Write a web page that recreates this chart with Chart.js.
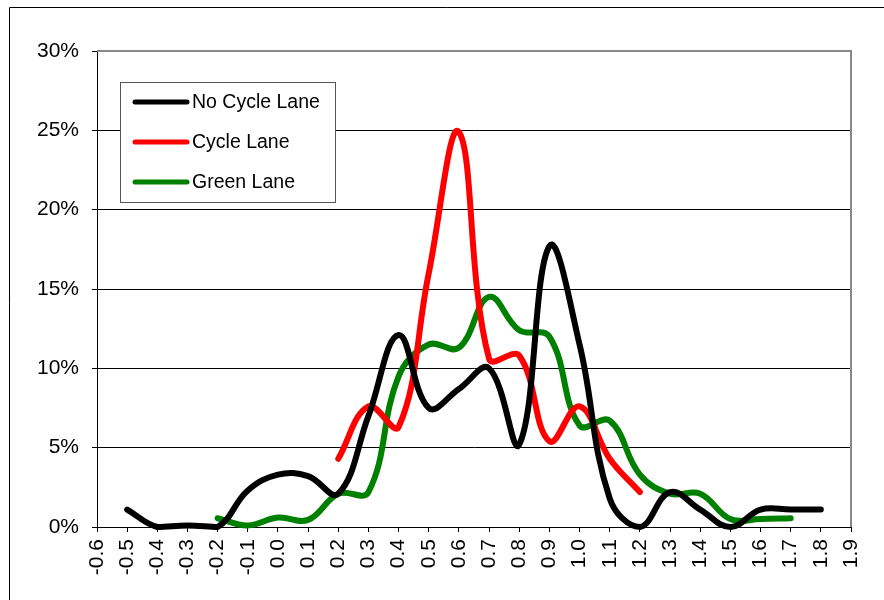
<!DOCTYPE html>
<html>
<head>
<meta charset="utf-8">
<script src="https://cdn.jsdelivr.net/npm/chart.js@4"></script>
<style>
  html, body { margin: 0; padding: 0; background: #fff; }
  #wrap { width: 884px; height: 600px; position: relative; }
</style>
</head>
<body>
<div id="wrap"><canvas id="laneChart"></canvas></div>
<script>
// x positions (speed bins) for each series
const noCycleX = [-0.5, -0.4, -0.3, -0.2, -0.1, 0.0, 0.1, 0.2, 0.3, 0.4, 0.5, 0.6,
                  0.7, 0.8, 0.9, 1.0, 1.1, 1.2, 1.3, 1.4, 1.5, 1.6, 1.7, 1.8];
const noCycleY = [1.1, 0.0, 0.1, 0.0, 2.3, 3.3, 3.2, 2.1, 7.0, 12.1, 7.5, 8.7,
                  10.0, 5.2, 17.7, 11.5, 1.8, 0.0, 2.2, 1.1, 0.0, 1.1, 1.1, 1.1];

const cycleX = [0.2, 0.3, 0.4, 0.5, 0.6, 0.7, 0.8, 0.9, 1.0, 1.1, 1.2];
const cycleY = [4.3, 7.6, 6.3, 16.0, 24.9, 10.6, 10.8, 5.4, 7.6, 4.3, 2.2];

const greenX = [-0.2, -0.1, 0.0, 0.1, 0.2, 0.3, 0.4, 0.5, 0.6, 0.7,
                0.8, 0.9, 1.0, 1.1, 1.2, 1.3, 1.4, 1.5, 1.6, 1.7];
const greenY = [0.55, 0.1, 0.6, 0.45, 2.1, 2.2, 9.5, 11.5, 11.3, 14.5,
                12.4, 12.0, 6.4, 6.7, 3.3, 2.1, 2.1, 0.5, 0.5, 0.55];

const seriesNames = ['No Cycle Lane', 'Cycle Lane', 'Green Lane'];
const seriesColors = ['#000000', '#ff0000', '#008000'];

const xMin = -0.6, xMax = 1.9;
const yTicks = [0, 5, 10, 15, 20, 25, 30];

function pts(xs, ys) {
    return xs.map((x, i) => ({ x: x, y: ys[i] }));
}

function lineSet(i, data) {
    return {
        label: seriesNames[i],
        data: data,
        borderColor: seriesColors[i],
        backgroundColor: seriesColors[i],
        borderWidth: 6,
        borderCapStyle: 'round',
        borderJoinStyle: 'round',
        pointRadius: 0,
        pointHoverRadius: 0,
        fill: false,
        tension: 0.4,
        clip: 10
    };
}

// frame, plot border and the boxed legend in the upper left
const decorPlugin = {
    id: 'decor',
    afterDraw(chart) {
        const c = chart.ctx;
        const a = chart.chartArea;
        c.save();
        // outer chart border (runs off the right and bottom)
        c.strokeStyle = '#000';
        c.lineWidth = 1;
        c.beginPath();
        c.moveTo(9.5, 600);
        c.lineTo(9.5, 7.5);
        c.lineTo(884, 7.5);
        c.stroke();

        // plot area top/right border
        c.strokeStyle = '#888';
        c.lineWidth = 2;
        c.beginPath();
        c.moveTo(a.left, a.top);
        c.lineTo(a.right, a.top);
        c.lineTo(a.right, a.bottom);
        c.stroke();

        // legend
        const bx = 120.5, by = 82.5, bw = 215, bh = 120;
        c.fillStyle = '#fff';
        c.fillRect(bx, by, bw, bh);
        c.strokeStyle = '#555';
        c.lineWidth = 1;
        c.strokeRect(bx, by, bw, bh);
        c.font = '19.5px "Liberation Sans", Arial, sans-serif';
        c.textBaseline = 'middle';
        c.textAlign = 'left';
        chart.data.datasets.forEach((ds, i) => {
            const y = 102 + i * 40;
            c.strokeStyle = ds.borderColor;
            c.lineWidth = 5;
            c.lineCap = 'round';
            c.beginPath();
            c.moveTo(135, y);
            c.lineTo(187, y);
            c.stroke();
            c.fillStyle = '#000';
            c.fillText(ds.label, 192, y + 1);
        });
        c.restore();
    }
};

const ctx = document.getElementById('laneChart').getContext('2d');
new Chart(ctx, {
    type: 'line',
    data: {
        datasets: [
            lineSet(0, pts(noCycleX, noCycleY)),
            lineSet(1, pts(cycleX, cycleY)),
            lineSet(2, pts(greenX, greenY))
        ]
    },
    options: {
        responsive: true,
        maintainAspectRatio: false,
        animation: false,
        events: [],
        layout: { padding: { top: 51, right: 33, left: 0, bottom: 0 } },
        plugins: {
            legend: { display: false },
            tooltip: { enabled: false }
        },
        scales: {
            x: {
                type: 'linear',
                min: xMin,
                max: xMax,
                afterFit: s => { s.height = 73; },
                afterBuildTicks: s => {
                    s.ticks = [];
                    for (let k = 0; k <= 25; k++) s.ticks.push({ value: xMin + k * 0.1 });
                },
                ticks: {
                    autoSkip: false,
                    minRotation: 90,
                    maxRotation: 90,
                    padding: 7,
                    color: '#000',
                    font: { family: '"Liberation Sans", Arial, sans-serif', size: 21 },
                    callback: v => (Math.abs(v) < 1e-9 ? '0.0' : v.toFixed(1))
                },
                grid: {
                    drawOnChartArea: false,
                    drawTicks: true,
                    tickLength: 5,
                    color: '#000'
                },
                border: { color: '#000', width: 1 }
            },
            y: {
                min: 0,
                max: 30,
                afterFit: s => { s.width = 97; },
                afterBuildTicks: s => { s.ticks = yTicks.map(v => ({ value: v })); },
                ticks: {
                    padding: 13,
                    color: '#000',
                    font: { family: '"Liberation Sans", Arial, sans-serif', size: 21 },
                    callback: v => v + '%'
                },
                grid: {
                    color: '#000',
                    lineWidth: 1,
                    tickLength: 5
                },
                border: { color: '#000', width: 1 }
            }
        }
    },
    plugins: [decorPlugin]
});
</script>
</body>
</html>
